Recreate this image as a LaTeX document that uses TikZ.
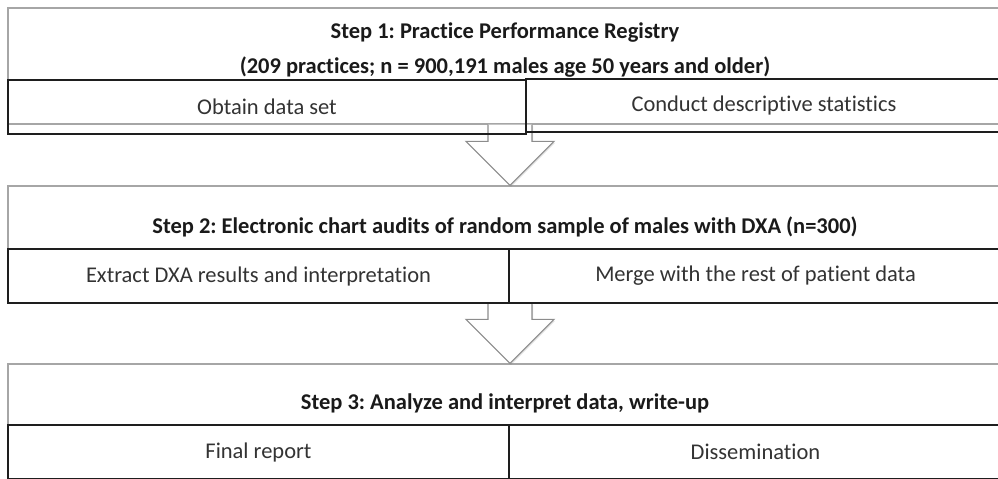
\documentclass[tikz,border=0pt]{standalone}
\usepackage{fontspec}
\setmainfont{Carlito}[Ligatures=NoCommon]
\frenchspacing
\usetikzlibrary{calc,shadows}
\definecolor{stepline}{HTML}{A6A6A6}
\definecolor{arrowline}{HTML}{8C8C8C}
\definecolor{cellline}{HTML}{1E1E1E}
\definecolor{ink}{HTML}{1A1A1A}
\definecolor{celltext}{HTML}{333333}

\begin{document}
\begin{tikzpicture}[
  x=0.02cm, y=-0.02cm,
  stepbox/.style={draw=stepline,line width=0.7pt,fill=white,minimum width=19.88cm,inner sep=0pt,
    drop shadow={shadow xshift=0.6pt,shadow yshift=-0.8pt,opacity=0.25}},
  cell/.style={draw=cellline,line width=0.9pt,minimum height=1.08cm,inner sep=0pt,
    font=\fontsize{12.8}{15}\selectfont,text=celltext},
  stitle/.style={font=\bfseries\fontsize{12.8}{15}\selectfont,text=ink},
  bigarrow/.style={draw=arrowline,line width=0.6pt,fill=white,line join=miter,
    drop shadow={shadow xshift=0.6pt,shadow yshift=-0.8pt,opacity=0.25}},
]
\clip (0,0) rectangle (998,478);

% ===================== STEP FRAMES =====================
\node[stepbox,minimum height=2.32cm] (s1) at (505,66) {};
\node[stepbox,minimum height=2.34cm] (s2) at (505,244.5) {};
\node[stepbox,minimum height=2.32cm] (s3) at (505,422) {};

% ===================== BLOCK ARROWS =====================
\coordinate (axis) at (510,0);
\foreach \a/\b in {s1/s2,s2/s3}{
  \coordinate (tail) at (\a.south -| axis);
  \coordinate (tip) at (\b.north -| axis);
  \draw[bigarrow] ([xshift=-0.44cm]tail) -- ([xshift=-0.44cm,yshift=0.88cm]tip)
    -- ([xshift=-0.88cm,yshift=0.88cm]tip) -- (tip) -- ([xshift=0.88cm,yshift=0.88cm]tip)
    -- ([xshift=0.44cm,yshift=0.88cm]tip) -- ([xshift=0.44cm]tail);
}

% ===================== STEP 1 =====================
\node[stitle] (t1a) at (505,33) {Step 1: Practice Performance Registry};
\node[stitle] (t1b) at (505,67) {(209 practices; n = 900,191 males age 50 years and older)};
\node[cell,minimum width=10.36cm] (L1) at (267,107) {Obtain data set};
\node[cell,minimum width=9.52cm,minimum height=1.06cm] (R1) at (764,105.5) {Conduct descriptive statistics};

% ===================== STEP 2 =====================
\node[stitle] (t2) at (505,227) {Step 2: Electronic chart audits of random sample of males with DXA (n=300)};
\node[cell,minimum width=10.02cm] (L2) at (258.5,276) {Extract DXA results and interpretation};
\node[cell,minimum width=9.86cm] (R2) at (755.5,276) {Merge with the rest of patient data};

% ===================== STEP 3 =====================
\node[stitle] (t3) at (505,403) {Step 3: Analyze and interpret data, write-up};
\node[cell,minimum width=10.02cm] (L3) at (258.5,452) {Final report};
\node[cell,minimum width=9.86cm] (R3) at (755.5,452) {Dissemination};

\end{tikzpicture}
\end{document}
